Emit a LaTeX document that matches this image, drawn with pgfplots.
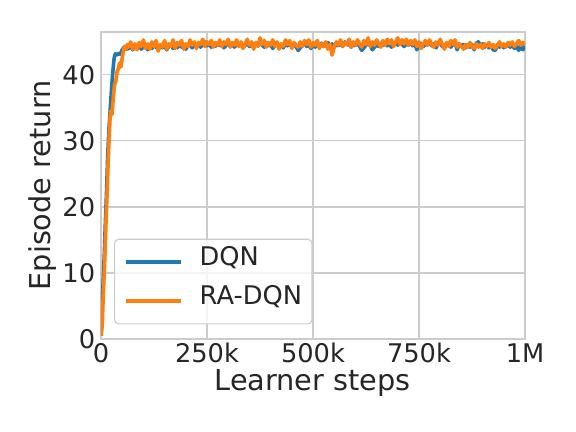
\documentclass[border=0pt]{standalone}
\usepackage{fontspec}
\setmainfont{DejaVu Sans}
\usepackage{pgfplots}
\pgfplotsset{compat=1.18}
\definecolor{clrDQN}{HTML}{1F77B4}
\definecolor{clrRA}{HTML}{FF7F0E}
\definecolor{clrGrid}{HTML}{CCCCCC}
\definecolor{clrText}{HTML}{262626}

\begin{document}
\begin{tikzpicture}
\begin{axis}[
  name=ax,
  scale only axis,
  width=305.3pt, height=221pt,
  xmin=0, xmax=1000, ymin=0, ymax=46.5,
  xtick={0,250,500,750,1000},
  xticklabels={0,250k,500k,750k,1M},
  ytick={0,10,20,30,40},
  yticklabels={0,10,20,30,40},
  major tick length=0pt,
  axis line style={clrGrid,line width=0.9pt},
  grid=major,
  grid style={clrGrid,line width=0.9pt},
  ticklabel style={font=\fontsize{18.5}{21}\selectfont,color=clrText,inner sep=0pt},
  xticklabel style={yshift=-3pt},
  yticklabel style={xshift=-4pt},
  xlabel={Learner steps},
  ylabel={Episode return},
  label style={font=\fontsize{20.7}{24}\selectfont,color=clrText},
  xlabel style={at={(axis description cs:0.499,-0.143)},anchor=center},
  ylabel style={at={(axis description cs:-0.137,0.5)},anchor=center},
  legend style={font=\fontsize{18.5}{22}\selectfont,text=clrText,
    draw=clrGrid,fill=white,fill opacity=0.8,text opacity=1,
    rounded corners=3pt,line width=0.8pt,
    at={(axis description cs:0.031,0.047)},anchor=south west,
    inner xsep=7.2pt,inner ysep=2.5pt,row sep=0pt,
    nodes={inner sep=0pt,text height=0.75em,text depth=0.25em},
    /tikz/every odd column/.append style={column sep=12pt}},
  legend cell align=left,
  legend image code/.code={%
    \path[draw=none,fill=none] (0pt,-14pt) rectangle (39.6pt,14pt);
    \draw[#1,line width=2.4pt] (0pt,0pt) -- (39.6pt,0pt);},
]
\addplot[clrDQN,line width=2.6pt,line join=round] coordinates {
(0,0.5) (3,5) (6,10) (8,13) (10,17) (13,22) (16,28) (19,32) (22,35) (25,38)
(28,40.5) (31,42.5) (34,43.2) (38,43.0) (42,43.3) (46,43.1) (50,43.8) (55,44.2) (60,43.9)
(65,44.0) (70,44.3) (75,43.8) (80,44.4) (85,44.1) (90,44.6) (95,43.9) (100,44.2) (105,44.5) (110,43.8)
(115,44.3) (120,44.0) (125,44.6) (130,44.2) (135,43.9) (140,44.5) (145,44.1) (150,44.4) (155,43.8) (160,44.3)
(165,44.6) (170,44.0) (175,44.4) (180,44.1) (185,44.7) (190,44.2) (195,44.5) (200,43.9) (205,44.4) (210,44.6)
(215,44.1) (220,44.5) (225,44.3) (230,44.8) (235,44.2) (240,44.6) (245,45.0) (250,44.4) (255,44.7) (260,44.2)
(265,44.5) (270,44.3) (275,44.8) (280,44.4) (285,44.6) (290,44.1) (295,44.5) (300,44.7) (305,44.3) (310,44.6)
(315,44.2) (320,44.8) (325,44.4) (330,44.6) (335,44.1) (340,44.5) (345,44.9) (350,44.3) (355,44.6) (360,44.2)
(365,44.7) (370,44.4) (375,45.0) (380,44.5) (385,44.2) (390,44.8) (395,44.4) (400,44.6) (405,44.0) (410,44.5)
(415,44.8) (420,44.3) (425,44.6) (430,44.1) (435,44.7) (440,44.4) (445,44.9) (450,44.2) (455,44.6) (460,44.3)
(465,43.7) (470,44.1) (475,44.5) (480,44.8) (485,44.3) (490,44.6) (495,44.0) (500,44.5) (505,44.2) (510,44.7)
(515,44.4) (520,44.8) (525,44.3) (530,44.6) (535,44.9) (540,44.4) (545,44.7) (550,44.2) (555,44.6) (560,44.4)
(565,44.8) (570,44.3) (575,45.0) (580,44.5) (585,44.7) (590,44.2) (595,44.6) (600,44.4) (605,44.9) (610,44.3)
(615,43.7) (620,44.1) (625,44.5) (630,44.8) (635,44.4) (640,43.8) (645,44.2) (650,44.6) (655,44.3) (660,44.8)
(665,44.5) (670,44.9) (675,44.4) (680,44.7) (685,44.2) (690,44.6) (695,44.9) (700,44.5) (705,45.0) (710,44.6)
(715,44.3) (720,44.8) (725,44.5) (730,44.9) (735,44.4) (740,44.7) (745,43.8) (750,44.6) (755,44.8) (760,44.3)
(765,44.7) (770,44.5) (775,44.9) (780,44.4) (785,44.7) (790,44.1) (795,44.6) (800,44.8) (805,44.3) (810,44.6)
(815,44.4) (820,44.8) (825,44.2) (830,44.6) (835,44.9) (840,43.8) (845,44.7) (850,44.3) (855,44.6) (860,44.1)
(865,44.5) (870,44.2) (875,44.6) (880,43.8) (885,44.8) (890,45.0) (895,44.4) (900,44.7) (905,44.2) (910,44.5)
(915,44.1) (920,44.4) (925,43.8) (930,43.7) (935,44.6) (940,44.2) (945,44.5) (950,44.1) (955,44.4) (960,44.6)
(965,44.2) (970,44.5) (975,44.0) (980,44.4) (985,43.7) (990,44.3) (995,43.8) (1000,44.4)
};
\addlegendentry{DQN}
\addplot[clrRA,line width=2.6pt,line join=round] coordinates {
(0,0.5) (3,2) (5,6) (7,9) (9,12) (12,18) (15,23) (17,27) (19,30) (21,33)
(23,34.5) (26,34) (29,36.5) (32,38.5) (35,39) (38,40.5) (41,41) (44,41.8) (47,41.2) (50,42.5)
(53,43.8) (56,44.3) (59,43.9) (62,44.6)
(65,44.2) (70,45.0) (75,43.9) (80,44.7) (85,43.8) (90,44.9) (95,44.3) (100,45.3) (105,44.0) (110,44.7)
(115,43.9) (120,45.0) (125,44.3) (130,45.2) (135,43.6) (140,44.6) (145,44.2) (150,45.2) (155,43.9) (160,44.7)
(165,44.3) (170,45.3) (175,44.0) (180,44.9) (185,44.5) (190,45.2) (195,43.9) (200,44.7) (205,44.3) (210,45.3)
(215,44.5) (220,45.0) (225,44.0) (230,44.9) (235,44.6) (240,45.4) (245,44.3) (250,45.0) (255,44.6) (260,45.2)
(265,44.2) (270,44.9) (275,44.5) (280,45.3) (285,44.3) (290,45.0) (295,44.6) (300,45.4) (305,44.2) (310,44.9)
(315,44.5) (320,45.3) (325,44.3) (330,45.0) (335,44.0) (340,44.7) (345,45.4) (350,44.5) (355,45.0) (360,43.9)
(365,44.9) (370,44.3) (375,45.6) (380,44.6) (385,45.2) (390,44.2) (395,44.9) (400,44.5) (405,45.3) (410,44.3)
(415,45.0) (420,43.9) (425,44.7) (430,44.3) (435,45.3) (440,44.6) (445,45.2) (450,44.0) (455,44.9) (460,44.5)
(465,44.2) (470,45.0) (475,44.3) (480,45.2) (485,44.6) (490,45.3) (495,44.2) (500,44.9) (505,44.5) (510,45.2)
(515,44.0) (520,44.7) (525,44.3) (530,45.0) (535,43.9) (540,44.6) (545,43.0) (550,44.3) (555,45.0) (560,44.5)
(565,45.3) (570,44.3) (575,44.9) (580,44.6) (585,45.4) (590,44.2) (595,45.0) (600,44.5) (605,45.3) (610,44.7)
(615,44.2) (620,45.2) (625,44.6) (630,45.6) (635,44.3) (640,45.0) (645,44.5) (650,45.3) (655,44.7) (660,44.2)
(665,45.2) (670,44.5) (675,45.4) (680,44.7) (685,45.3) (690,44.3) (695,45.0) (700,45.6) (705,44.6) (710,45.3)
(715,44.7) (720,45.4) (725,44.5) (730,45.2) (735,44.6) (740,45.3) (745,44.3) (750,45.0) (755,44.0) (760,44.7)
(765,45.2) (770,44.5) (775,45.3) (780,44.6) (785,44.2) (790,45.0) (795,44.5) (800,45.4) (805,44.6) (810,43.9)
(815,44.9) (820,44.3) (825,45.2) (830,44.6) (835,45.3) (840,44.2) (845,44.7) (850,44.3) (855,43.9) (860,44.6)
(865,44.2) (870,44.9) (875,44.3) (880,44.0) (885,44.7) (890,44.2) (895,44.6) (900,44.0) (905,44.7) (910,44.3)
(915,44.9) (920,44.2) (925,44.6) (930,44.0) (935,44.5) (940,45.0) (945,44.3) (950,44.7) (955,44.2) (960,44.9)
(965,44.5) (970,45.0) (975,44.3) (980,44.7) (985,45.2) (990,44.5) (995,44.9) (1000,44.6)
};
\addlegendentry{RA-DQN}
\end{axis}
\pgfresetboundingbox
\path[use as bounding box] ([shift={(-72.7pt,-67pt)}]ax.south west) rectangle ([shift={(36.7pt,23pt)}]ax.north east);
\end{tikzpicture}
\end{document}
